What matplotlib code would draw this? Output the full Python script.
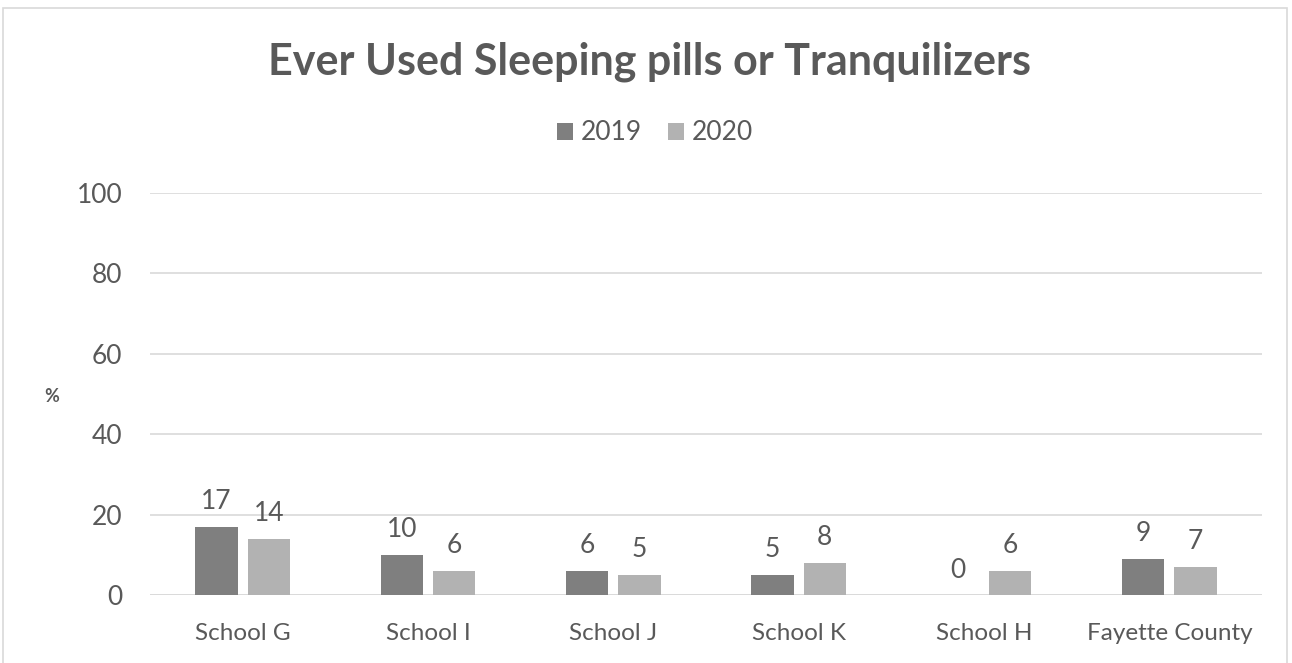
import matplotlib
matplotlib.use("Agg")
import matplotlib.pyplot as plt
import numpy as np
from matplotlib.patches import Rectangle

categories = ["School G", "School I", "School J", "School K", "School H", "Fayette County"]
series_names = ["2019", "2020"]
values_2019 = [17, 10, 6, 5, 0, 9]
values_2020 = [14, 6, 5, 8, 6, 7]
yticks = [0, 20, 40, 60, 80, 100]

plt.rcParams['font.family'] = ['Lato', 'DejaVu Sans']
txt = '#595959'

fig = plt.figure(figsize=(12.92, 6.63), dpi=100)
W, H = 1292, 663
ax = fig.add_axes([150 / W, 1 - 595 / H, (1262 - 150) / W, (595 - 193) / H])

x = np.arange(len(categories))
bw = 0.227
off = 0.141
b1 = ax.bar(x - off, values_2019, bw, color='#7f7f7f', label=series_names[0], zorder=3)
b2 = ax.bar(x + off, values_2020, bw, color='#b2b2b2', label=series_names[1], zorder=3)

for bars in (b1, b2):
    for r in bars:
        ax.annotate(f"{int(r.get_height())}", (r.get_x() + r.get_width() / 2, r.get_height()),
                    xytext=(0, 9), textcoords='offset points', ha='center', va='bottom',
                    fontsize=19, color=txt)

ax.set_xlim(-0.5, len(categories) - 0.5)
ax.set_ylim(0, 100)
ax.set_yticks(yticks)
ax.set_xticks(x)
ax.set_xticklabels(categories)
ax.grid(axis='y', color='#d9d9d9', linewidth=1.2, zorder=0)
for s in ax.spines.values():
    s.set_visible(False)
ax.axhline(0, color='#d9d9d9', linewidth=1.2, zorder=2)
ax.tick_params(axis='both', length=0, labelcolor=txt)
ax.tick_params(axis='y', pad=20, labelsize=19)
ax.tick_params(axis='x', pad=20, labelsize=17.5)

fig.text(52 / W, 1 - 396 / H, "%", fontsize=13, fontweight='bold', color=txt, ha='center', va='center')
fig.text(650 / W, 1 - 62 / H, "Ever Used Sleeping pills or Tranquilizers", fontsize=31,
         fontweight='bold', color=txt, ha='center', va='center')
fig.legend(handles=[b1, b2], loc='center', bbox_to_anchor=(655 / W, 1 - 133 / H), ncol=2,
           frameon=False, fontsize=19, labelcolor=txt, handlelength=0.6, handleheight=0.6,
           handletextpad=0.3, columnspacing=1.0)

fig.patches.append(Rectangle((3 / W, -0.05), (1287 - 3) / W, 1 - 8 / H + 0.05,
                             transform=fig.transFigure, fill=False, edgecolor='#d9d9d9', linewidth=1.2))

fig.savefig("out.png", dpi=100)
